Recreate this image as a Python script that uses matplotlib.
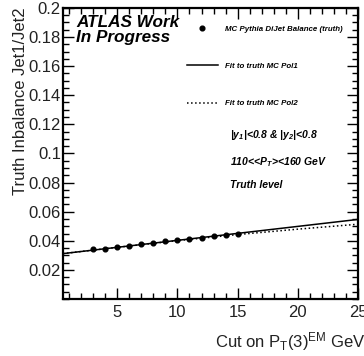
import matplotlib

matplotlib.use("Agg")
import matplotlib.pyplot as plt
from matplotlib.ticker import MultipleLocator

plt.rcParams["font.family"] = ["Liberation Sans", "DejaVu Sans"]
plt.rcParams["mathtext.default"] = "regular"

# MC truth points
cut_pt = [3, 4, 5, 6, 7, 8, 9, 10, 11, 12, 13, 14, 15]
imbalance = [0.0342, 0.0343, 0.0355, 0.0367, 0.0375, 0.0384, 0.0397,
             0.0406, 0.0413, 0.0420, 0.0430, 0.0437, 0.0446]

# fit curves
pol1_x = [0.5, 25]
pol1_y = [0.0312, 0.0547]
pol2_x = [0.5, 5, 10, 15, 20, 25]
pol2_y = [0.0312, 0.0355, 0.0401, 0.0443, 0.0480, 0.0514]

fig = plt.figure(figsize=(3.64, 3.56), dpi=100)
ax = fig.add_axes([0.173, 0.160, 0.811, 0.818])

ax.plot(cut_pt, imbalance, "o", color="black", ms=3.4,
        label="MC Pythia DiJet Balance (truth)")
ax.plot(pol1_x, pol1_y, "-", color="black", lw=1.1,
        label="Fit to truth MC Pol1")
ax.plot(pol2_x, pol2_y, ":", color="black", lw=1.1,
        label="Fit to truth MC Pol2")

ax.set_xlim(0.5, 25)
ax.set_ylim(0, 0.2)
ax.xaxis.set_major_locator(MultipleLocator(5))
ax.xaxis.set_minor_locator(MultipleLocator(1))
ax.yaxis.set_minor_locator(MultipleLocator(0.005))
ax.set_yticks([0.02, 0.04, 0.06, 0.08, 0.1, 0.12, 0.14, 0.16, 0.18, 0.2])
ax.set_yticklabels(["0.02", "0.04", "0.06", "0.08", "0.1", "0.12", "0.14",
                    "0.16", "0.18", "0.2"])
ax.tick_params(which="both", direction="in", top=True, right=True,
               labelsize=12, labelcolor="#222222", width=1.0)
ax.tick_params(which="major", length=8, pad=1.5)
ax.tick_params(axis="x", which="major", pad=4)
ax.tick_params(which="minor", length=4)
for s in ax.spines.values():
    s.set_linewidth(1.6)

ax.set_xlabel(r"Cut on P$_{T}$(3)$^{EM}$ GeV", fontsize=12,
              color="#222222", loc="right")
ax.xaxis.set_label_coords(1.025, -0.105)
ax.set_ylabel("Truth Inbalance Jet1/Jet2", fontsize=12, color="#222222",
              loc="top")
ax.yaxis.set_label_coords(-0.12, 1.0)

ax.text(0.045, 0.975, "ATLAS Work\nIn Progress", transform=ax.transAxes,
        fontsize=12.3, fontweight="bold", fontstyle="italic", va="top",
        ha="left", linespacing=0.95)

leg = ax.legend(loc="upper left", bbox_to_anchor=(0.42, 0.94), frameon=False,
                prop={"size": 5.7, "weight": "bold", "style": "italic"},
                labelspacing=3.75, handlelength=3.9, handletextpad=0.9,
                borderaxespad=0, borderpad=0)

info = dict(transform=ax.transAxes, fontsize=7.5, fontweight="bold",
            fontstyle="italic", ha="left", va="center")
ax.text(0.565, 0.564, "|y$_{1}$|<0.8 & |y$_{2}$|<0.8", **info)
ax.text(0.565, 0.471, "110<<P$_{T}$><160 GeV", **info)
ax.text(0.565, 0.392, "Truth level", **info)

fig.savefig("out.png", dpi=100)
